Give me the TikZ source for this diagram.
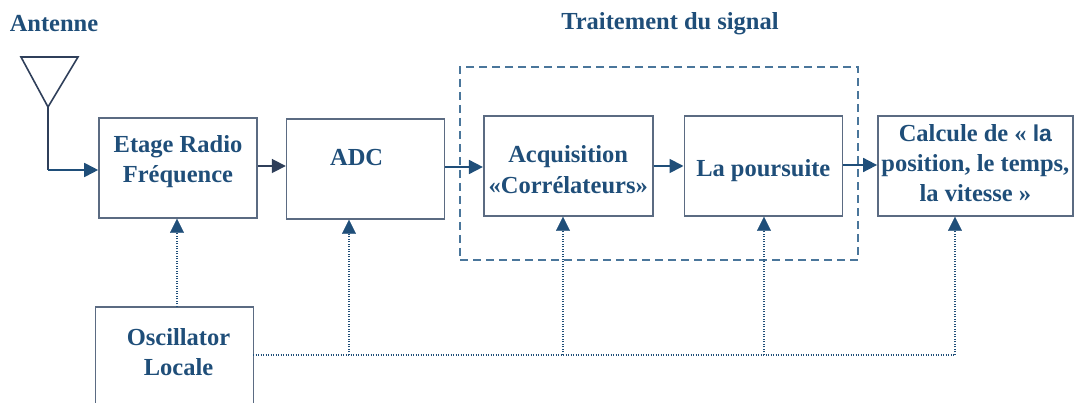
\documentclass[tikz,border=0pt]{standalone}
\usepackage{fontspec}
\setmainfont{Liberation Serif}
\setsansfont{Liberation Sans}
\usetikzlibrary{arrows.meta,calc,positioning}
\definecolor{txtblue}{HTML}{1F4E79}
\definecolor{boxgrey}{HTML}{5B6B82}
\definecolor{navy}{HTML}{2F3F5A}
\definecolor{dashblue}{HTML}{4A769B}

\begin{document}
\begin{tikzpicture}
    [x=1pt, y=-1pt, >={Triangle[length=14pt,width=14pt]},
    block/.style={draw=boxgrey, line width=1.6pt, rectangle, inner sep=0pt,
      minimum width=#1, minimum height=100pt, align=center, text=txtblue,
      font=\bfseries\fontsize{24.5}{30}\selectfont},
    block/.default=158pt,
    desc/.style={text=txtblue, inner sep=0pt, font=\bfseries\fontsize{24.5}{30}\selectfont},
    wire/.style={line width=1.8pt, draw=txtblue},
    sig/.style={line width=1.3pt, draw=txtblue, dash pattern=on 1.3pt off 1.2pt}]

  \useasboundingbox (0,0) rectangle (1074,403);

  % dashed frame first, arrows go over it
  \node[draw=dashblue, line width=1.6pt, dash pattern=on 8pt off 5pt, inner sep=0pt,
    minimum width=398pt, minimum height=193pt] (proc) at (659,163.5) {};
  \node[desc] (proc_title) at (670,24) {Traitement du signal};
  \node[desc] (ant_title) at (54,24) {Antenne};

  \node[block, text depth=18pt] (rf) at (178,168) {Etage Radio\\Fréquence};
  \node[block, right=28pt of rf, yshift=-1pt, text depth=24pt] (adc) {ADC\hspace*{18pt}};
  \node[block=169pt, right=37.5pt of adc, yshift=3pt, text height=55pt] (acq) {Acquisition\\[1pt]«Corrélateurs»};
  \node[block, right=30pt of acq, text height=22pt, text depth=0pt] (pours) {La poursuite};
  \node[block=195pt, right=34pt of pours, text depth=6pt] (calc)
    {Calcule de « {\sffamily\fontsize{23}{30}\selectfont la}\\position, le temps,\\la vitesse »};
  \node[block, minimum height=110pt, text depth=20pt] (osc) at (174.5,362)
    {\hspace*{8pt}Oscillator\\\hspace*{8pt}Locale};

  % antenna
  \coordinate (ant) at (48,107);
  \coordinate (ant_bend) at (48,170);
  \draw[line width=1.6pt, draw=navy] (21,57) -- (78,57) -- (ant) -- cycle;
  \draw[line width=1.8pt, draw=navy] (ant) -- (ant_bend);
  \draw[wire,->,fill=txtblue] (ant_bend) -- (ant_bend -| rf.west);

  \draw[->,line width=1.8pt,draw=navy,fill=navy] (rf.east |- 0,166) -- (adc.west |- 0,166);
  \draw[wire,->,fill=txtblue] (adc.east |- 0,167) -- (acq.west |- 0,167);
  \draw[wire,->,fill=txtblue] (acq.east |- 0,166) -- (pours.west |- 0,166);
  \draw[wire,->,fill=txtblue] (pours.east |- 0,165) -- (calc.west |- 0,165);

  % local oscillator bus
  \coordinate (bus_rf) at (177,307);
  \coordinate (bus_start) at (253,355);
  \coordinate (bus_adc) at (349,355);
  \coordinate (bus_acq) at (563,355);
  \coordinate (bus_pours) at (764,355);
  \coordinate (bus_calc) at (955,355);
  \draw[sig] (bus_start) -- (bus_calc);
  \foreach \j/\b in {bus_rf/rf, bus_adc/adc, bus_acq/acq, bus_pours/pours, bus_calc/calc}
    \draw[sig] (\j) -- ($(\j |- \b.south)+(0,14)$);
  \foreach \j/\b in {bus_rf/rf, bus_adc/adc, bus_acq/acq, bus_pours/pours, bus_calc/calc}
    \draw[->,line width=0.1pt,draw=txtblue,fill=txtblue] ($(\j |- \b.south)+(0,14)$) -- (\j |- \b.south);

\end{tikzpicture}
\end{document}
